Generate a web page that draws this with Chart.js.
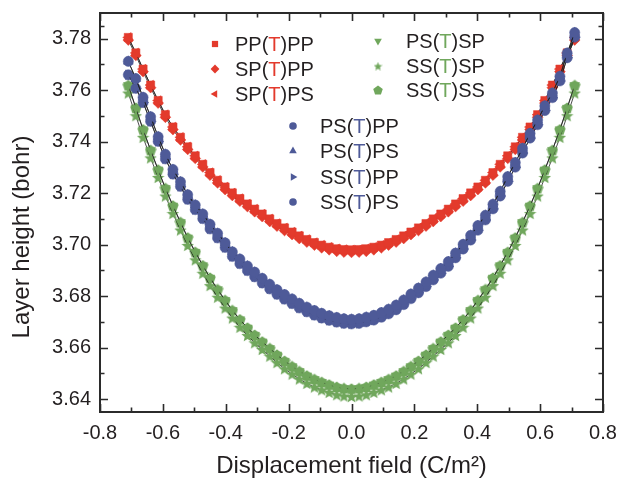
<!DOCTYPE html>
<html>
<head>
<meta charset="utf-8">
<script src="https://cdn.jsdelivr.net/npm/chart.js@4.4.1/dist/chart.umd.min.js"></script>
<style>
html,body{margin:0;padding:0;background:#ffffff;}
canvas{display:block;}
</style>
</head>
<body>
<canvas id="chart" width="618" height="478"></canvas>
<script>
// ---------------- data ----------------
const field = [-0.710,-0.686,-0.663,-0.639,-0.615,-0.592,-0.568,-0.544,-0.521,-0.497,-0.473,-0.450,-0.426,-0.402,-0.379,-0.355,-0.331,-0.308,-0.284,-0.260,-0.237,-0.213,-0.189,-0.166,-0.142,-0.118,-0.095,-0.071,-0.047,-0.024,0.000,0.024,0.047,0.071,0.095,0.118,0.142,0.166,0.189,0.213,0.237,0.260,0.284,0.308,0.331,0.355,0.379,0.402,0.426,0.450,0.473,0.497,0.521,0.544,0.568,0.592,0.615,0.639,0.663,0.686,0.710];

const redNames = ['PP(T)PP', 'SP(T)PP', 'SP(T)PS'];
const greenNames = ['PS(T)SP', 'SS(T)SP', 'SS(T)SS'];
const blueNames = ['PS(T)PP', 'PS(T)PS', 'SS(T)PP', 'SS(T)PS'];

// red band: upper track (PP(T)PP, SP(T)PS) and lower track (SP(T)PP)
const heightRedA = [3.7805,3.7745,3.7682,3.7620,3.7560,3.7505,3.7457,3.7417,3.7380,3.7345,3.7312,3.7280,3.7250,3.7224,3.7201,3.7179,3.7158,3.7138,3.7119,3.7100,3.7082,3.7065,3.7049,3.7034,3.7020,3.7008,3.6998,3.6990,3.6984,3.6981,3.6980,3.6981,3.6984,3.6990,3.6998,3.7008,3.7020,3.7034,3.7049,3.7065,3.7082,3.7100,3.7119,3.7138,3.7158,3.7179,3.7201,3.7224,3.7250,3.7280,3.7312,3.7345,3.7380,3.7417,3.7457,3.7505,3.7560,3.7620,3.7682,3.7745,3.7805];
const heightRedB = [3.7795,3.7735,3.7672,3.7610,3.7550,3.7495,3.7447,3.7407,3.7370,3.7335,3.7302,3.7270,3.7240,3.7214,3.7191,3.7169,3.7148,3.7128,3.7109,3.7090,3.7072,3.7055,3.7039,3.7024,3.7010,3.6998,3.6988,3.6980,3.6974,3.6971,3.6970,3.6971,3.6974,3.6980,3.6988,3.6998,3.7010,3.7024,3.7039,3.7055,3.7072,3.7090,3.7109,3.7128,3.7148,3.7169,3.7191,3.7214,3.7240,3.7270,3.7302,3.7335,3.7370,3.7407,3.7447,3.7495,3.7550,3.7610,3.7672,3.7735,3.7795];

// blue band: PS(T).. track and SS(T).. track
const heightBlueA = [3.7712,3.7645,3.7572,3.7497,3.7419,3.7351,3.7292,3.7244,3.7194,3.7154,3.7119,3.7079,3.7044,3.7007,3.6972,3.6944,3.6917,3.6893,3.6869,3.6846,3.6825,3.6806,3.6789,3.6772,3.6757,3.6744,3.6733,3.6724,3.6717,3.6712,3.6710,3.6712,3.6718,3.6725,3.6736,3.6749,3.6765,3.6785,3.6808,3.6831,3.6855,3.6881,3.6907,3.6934,3.6967,3.7001,3.7036,3.7074,3.7114,3.7157,3.7207,3.7264,3.7319,3.7374,3.7432,3.7484,3.7539,3.7589,3.7654,3.7744,3.7824];
const heightBlueB = [3.7660,3.7607,3.7552,3.7479,3.7401,3.7333,3.7274,3.7226,3.7176,3.7136,3.7101,3.7061,3.7026,3.6989,3.6954,3.6926,3.6899,3.6875,3.6851,3.6828,3.6807,3.6788,3.6771,3.6754,3.6739,3.6726,3.6715,3.6706,3.6699,3.6694,3.6692,3.6694,3.6700,3.6707,3.6718,3.6731,3.6747,3.6767,3.6790,3.6813,3.6837,3.6863,3.6889,3.6916,3.6949,3.6983,3.7018,3.7056,3.7096,3.7139,3.7189,3.7246,3.7301,3.7356,3.7414,3.7466,3.7521,3.7571,3.7636,3.7726,3.7806];

// green band: PS(T)SP / SS(T)SS track and SS(T)SP track
const heightGreenA = [3.7619,3.7531,3.7447,3.7367,3.7291,3.7219,3.7151,3.7087,3.7027,3.6971,3.6919,3.6871,3.6826,3.6784,3.6745,3.6709,3.6677,3.6649,3.6623,3.6597,3.6572,3.6548,3.6527,3.6508,3.6491,3.6477,3.6466,3.6456,3.6447,3.6442,3.6440,3.6442,3.6447,3.6456,3.6466,3.6477,3.6491,3.6508,3.6527,3.6548,3.6572,3.6597,3.6623,3.6649,3.6677,3.6709,3.6745,3.6784,3.6826,3.6871,3.6919,3.6971,3.7027,3.7087,3.7151,3.7219,3.7291,3.7367,3.7447,3.7531,3.7619];
const heightGreenB = [3.7589,3.7501,3.7417,3.7337,3.7261,3.7189,3.7121,3.7057,3.6997,3.6941,3.6889,3.6841,3.6796,3.6754,3.6715,3.6679,3.6647,3.6619,3.6593,3.6567,3.6542,3.6518,3.6497,3.6478,3.6461,3.6447,3.6436,3.6426,3.6417,3.6412,3.6410,3.6412,3.6417,3.6426,3.6436,3.6447,3.6461,3.6478,3.6497,3.6518,3.6542,3.6567,3.6593,3.6619,3.6647,3.6679,3.6715,3.6754,3.6796,3.6841,3.6889,3.6941,3.6997,3.7057,3.7121,3.7189,3.7261,3.7337,3.7417,3.7501,3.7589];

const xTickValues = [-0.8,-0.6,-0.4,-0.2,0.0,0.2,0.4,0.6,0.8];
const yTickValues = [3.64,3.66,3.68,3.70,3.72,3.74,3.76,3.78];

// which track each series follows
const seriesValues = {
  'PP(T)PP': heightRedA, 'SP(T)PP': heightRedB, 'SP(T)PS': heightRedA,
  'PS(T)SP': heightGreenA, 'SS(T)SP': heightGreenB, 'SS(T)SS': heightGreenA,
  'PS(T)PP': heightBlueA, 'PS(T)PS': heightBlueA, 'SS(T)PP': heightBlueB, 'SS(T)PS': heightBlueB
};

// ---------------- styles ----------------
const RED = '#E33A2C', BLUE = '#4E5A98', GREEN = '#70A75C';
const TXT = '#231F20';
const FONT = '"Liberation Sans", Arial, Helvetica, sans-serif';

function shapeCanvas(kind, color, size) {
  const c = document.createElement('canvas');
  c.width = size; c.height = size;
  const g = c.getContext('2d');
  const cx = size / 2, cy = size / 2 + (kind === 'star' ? 0.6 : 0.5), R = size / 2;
  g.fillStyle = color;
  g.beginPath();
  if (kind === 'star') {
    for (let i = 0; i < 10; i++) {
      const r = (i % 2) ? R * 0.45 : R;
      const a = -Math.PI / 2 + i * Math.PI / 5;
      const px = cx + r * Math.cos(a), py = cy + r * Math.sin(a);
      if (i === 0) g.moveTo(px, py); else g.lineTo(px, py);
    }
  } else {
    for (let i = 0; i < 5; i++) {
      const a = -Math.PI / 2 + i * 2 * Math.PI / 5;
      const px = cx + R * Math.cos(a), py = cy + R * Math.sin(a);
      if (i === 0) g.moveTo(px, py); else g.lineTo(px, py);
    }
  }
  g.closePath();
  g.fill();
  return c;
}

const markerStyles = {
  'PP(T)PP': {style: 'rect', rot: 0, r: 5.8, legendR: 4.4},
  'SP(T)PP': {style: 'rectRot', rot: 0, r: 5.4, legendR: 4.4},
  'SP(T)PS': {style: 'triangle', rot: -90, r: 5.6, legendR: 4.4},
  'PS(T)SP': {style: 'triangle', rot: 180, r: 5.6, legendR: 4.4},
  'SS(T)SP': {style: shapeCanvas('star', GREEN, 13), legendStyle: shapeCanvas('star', GREEN, 9), rot: 0, r: 6},
  'SS(T)SS': {style: shapeCanvas('pentagon', GREEN, 12), legendStyle: shapeCanvas('pentagon', GREEN, 10), rot: 0, r: 6},
  'PS(T)PP': {style: 'circle', rot: 0, r: 5.1, legendR: 3.8},
  'PS(T)PS': {style: 'triangle', rot: 0, r: 5.6, legendR: 4.4},
  'SS(T)PP': {style: 'triangle', rot: 90, r: 5.6, legendR: 4.4},
  'SS(T)PS': {style: 'circle', rot: 0, r: 5.1, legendR: 3.8}
};

function makeSet(name, color, order) {
  const m = markerStyles[name];
  const values = seriesValues[name];
  return {
    label: name,
    data: field.map((xv, i) => ({x: xv, y: values[i]})),
    showLine: true,
    borderColor: '#1E1E1E',
    borderWidth: 0.8,
    backgroundColor: color,
    pointBackgroundColor: color,
    pointBorderColor: color,
    pointBorderWidth: 0.5,
    pointStyle: m.style,
    pointRotation: m.rot,
    pointRadius: m.r,
    pointHoverRadius: m.r,
    tension: 0,
    order: order
  };
}

const datasets = [];
redNames.forEach(n => datasets.push(makeSet(n, RED, 3)));
greenNames.forEach(n => datasets.push(makeSet(n, GREEN, 2)));
blueNames.forEach(n => datasets.push(makeSet(n, BLUE, 1)));

// legend layout (positions only)
const legendItems = [
  {name: 'PP(T)PP', color: RED, mx: 215, tx: 235, y: 44},
  {name: 'SP(T)PP', color: RED, mx: 215, tx: 235, y: 69},
  {name: 'SP(T)PS', color: RED, mx: 215, tx: 235, y: 94},
  {name: 'PS(T)SP', color: GREEN, mx: 378, tx: 406, y: 41},
  {name: 'SS(T)SP', color: GREEN, mx: 378, tx: 406, y: 66},
  {name: 'SS(T)SS', color: GREEN, mx: 378, tx: 406, y: 90},
  {name: 'PS(T)PP', color: BLUE, mx: 293, tx: 320, y: 126},
  {name: 'PS(T)PS', color: BLUE, mx: 293, tx: 320, y: 151},
  {name: 'SS(T)PP', color: BLUE, mx: 293, tx: 320, y: 177},
  {name: 'SS(T)PS', color: BLUE, mx: 293, tx: 320, y: 202}
];

const framePlugin = {
  id: 'frame',
  afterDraw(chart) {
    const {ctx, chartArea: a, scales} = chart;
    const xs = scales.x, ys = scales.y;
    ctx.save();
    // ticks (inward, all four sides)
    ctx.strokeStyle = '#2b2b2b';
    ctx.lineWidth = 1.6;
    ctx.beginPath();
    const major = 8, minor = 4.5;
    for (let i = 0; i < xTickValues.length; i++) {
      const px = Math.round(xs.getPixelForValue(xTickValues[i])) + 0.5;
      ctx.moveTo(px, a.bottom); ctx.lineTo(px, a.bottom - major);
      ctx.moveTo(px, a.top); ctx.lineTo(px, a.top + major);
      if (i < xTickValues.length - 1) {
        const pm = Math.round(xs.getPixelForValue((xTickValues[i] + xTickValues[i + 1]) / 2)) + 0.5;
        ctx.moveTo(pm, a.bottom); ctx.lineTo(pm, a.bottom - minor);
        ctx.moveTo(pm, a.top); ctx.lineTo(pm, a.top + minor);
      }
    }
    const yAll = [yTickValues[0] - 0.01].concat(yTickValues).concat([yTickValues[yTickValues.length - 1] + 0.01]);
    for (let i = 0; i < yAll.length; i++) {
      const v = yAll[i];
      const py = ys.getPixelForValue(v);
      const isMajor = yTickValues.some(t => Math.abs(t - v) < 1e-6);
      const len = isMajor ? major : minor;
      if (py > a.top + 1 && py < a.bottom - 1) {
        const pyr = Math.round(py) + 0.5;
        ctx.moveTo(a.left, pyr); ctx.lineTo(a.left + len, pyr);
        ctx.moveTo(a.right, pyr); ctx.lineTo(a.right - len, pyr);
      }
      if (isMajor && i < yAll.length - 1) {
        const pm = ys.getPixelForValue((v + yAll[i + 1]) / 2);
        if (pm > a.top + 1 && pm < a.bottom - 1) {
          const pmr = Math.round(pm) + 0.5;
          ctx.moveTo(a.left, pmr); ctx.lineTo(a.left + minor, pmr);
          ctx.moveTo(a.right, pmr); ctx.lineTo(a.right - minor, pmr);
        }
      }
    }
    ctx.stroke();
    // frame
    ctx.lineWidth = 2;
    ctx.strokeStyle = '#2b2b2b';
    ctx.strokeRect(a.left, a.top, a.right - a.left, a.bottom - a.top);

    // axis titles
    ctx.fillStyle = TXT;
    ctx.font = '24px ' + FONT;
    ctx.textAlign = 'center';
    ctx.textBaseline = 'alphabetic';
    ctx.fillText('Displacement field (C/m\u00B2)', (a.left + a.right) / 2, 473);
    ctx.save();
    ctx.translate(29, 237);
    ctx.rotate(-Math.PI / 2);
    ctx.fillText('Layer height (bohr)', 0, 0);
    ctx.restore();

    // legend
    ctx.font = '20px ' + FONT;
    ctx.textAlign = 'left';
    ctx.textBaseline = 'middle';
    for (const it of legendItems) {
      const m = markerStyles[it.name];
      ctx.fillStyle = it.color;
      ctx.strokeStyle = it.color;
      Chart.helpers.drawPoint(ctx, {
        pointStyle: m.legendStyle || m.style,
        rotation: m.rot,
        radius: m.legendR || 4,
        borderWidth: 0
      }, it.mx, it.y);
      const parts = it.name.split('(T)');
      let x = it.tx;
      const yTxt = it.y + 1;
      ctx.fillStyle = TXT;
      ctx.fillText(parts[0] + '(', x, yTxt);
      x += ctx.measureText(parts[0] + '(').width;
      ctx.fillStyle = it.color;
      ctx.fillText('T', x, yTxt);
      x += ctx.measureText('T').width;
      ctx.fillStyle = TXT;
      ctx.fillText(')' + parts[1], x, yTxt);
    }
    ctx.restore();
  }
};

Chart.defaults.font.family = FONT;
Chart.defaults.color = TXT;

function noPad(s) {
  s.paddingTop = 0; s.paddingBottom = 0; s.paddingLeft = 0; s.paddingRight = 0;
}

const chart = new Chart(document.getElementById('chart'), {
  type: 'scatter',
  data: {datasets: datasets},
  options: {
    responsive: false,
    devicePixelRatio: 1,
    animation: false,
    layout: {padding: {left: 0, top: 13, right: 15, bottom: 0}},
    plugins: {legend: {display: false}, tooltip: {enabled: false}},
    scales: {
      x: {
        type: 'linear',
        min: -0.8, max: 0.8,
        grid: {display: false, drawTicks: false},
        border: {display: false},
        ticks: {
          stepSize: 0.2,
          padding: 9,
          font: {size: 20},
          color: TXT,
          maxRotation: 0,
          callback: v => Number(v).toFixed(1)
        },
        afterFit: s => { s.height = 66; noPad(s); }
      },
      y: {
        type: 'linear',
        min: 3.635, max: 3.79,
        grid: {display: false, drawTicks: false},
        border: {display: false},
        ticks: {
          stepSize: 0.02,
          includeBounds: false,
          padding: 9,
          font: {size: 20},
          color: TXT,
          callback: v => Number(v).toFixed(2)
        },
        afterFit: s => { s.width = 100; noPad(s); }
      }
    }
  },
  plugins: [framePlugin]
});
</script>
</body>
</html>
